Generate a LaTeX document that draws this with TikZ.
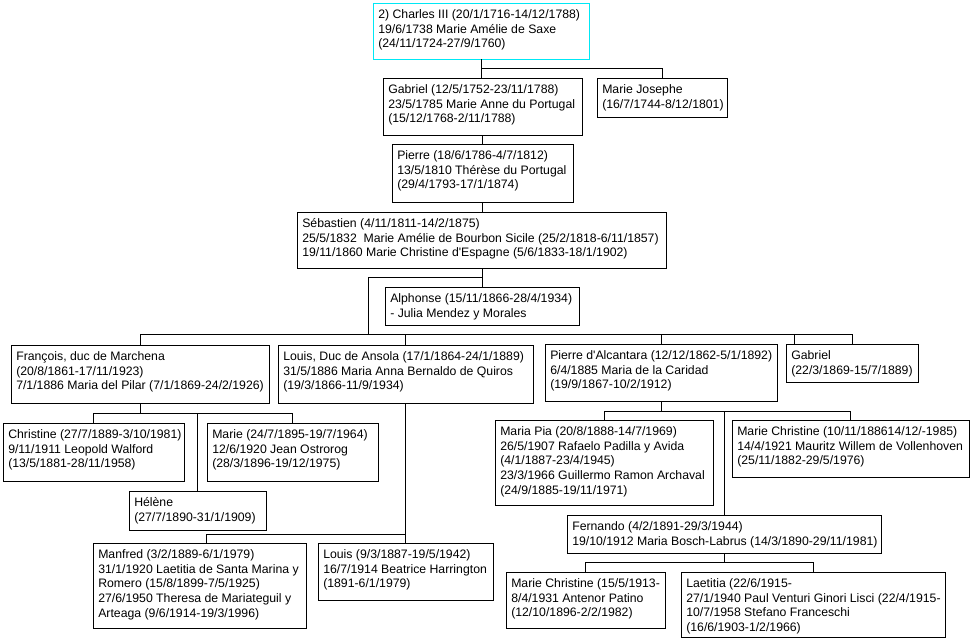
\documentclass[tikz,border=0pt]{standalone}
\usepackage{fontspec}
\setmainfont{Liberation Sans}[Ligatures=TeXOff]
\usetikzlibrary{calc}
\definecolor{topcyan}{RGB}{0,232,245}
\newcommand{\pnode}[7]{%
  \node[boxst,#1,minimum width={#5*0.75pt},minimum height={#6*0.75pt}] (#2) at (#3,#4) {};
  \node[txt] (#2-t) at ($(#2.north west)+(5,6)$) {\rule{0pt}{7pt}#7};}
\begin{document}
\begin{tikzpicture}[x=0.75pt,y=-0.75pt,
  boxst/.style={draw=black,line width=0.75pt,fill=white,anchor=north west,inner sep=0pt,outer sep=0pt},
  txt/.style={anchor=north west,inner sep=0pt,align=left,font=\fontsize{9.2}{11}\selectfont},
  conn/.style={draw=black,line width=0.75pt}]
\fill[white] (0,0) rectangle (971,640);
\useasboundingbox (0,0) rectangle (971,640);

\pnode{draw=topcyan}{charles}{373}{3}{216}{56}{2) Charles III (20/1/1716-14/12/1788)\\19/6/1738 Marie Amélie de Saxe\\(24/11/1724-27/9/1760)}
\pnode{}{gabriel}{383}{78}{199}{57}{Gabriel (12/5/1752-23/11/1788)\\23/5/1785 Marie Anne du Portugal\\(15/12/1768-2/11/1788)}
\pnode{}{mariejo}{597}{78}{130}{39}{Marie Josephe\\(16/7/1744-8/12/1801)}
\pnode{}{pierre}{392}{144}{181}{58}{Pierre (18/6/1786-4/7/1812)\\13/5/1810 Thérèse du Portugal\\(29/4/1793-17/1/1874)}
\pnode{}{sebastien}{297}{212}{369}{56}{Sébastien (4/11/1811-14/2/1875)\\25/5/1832~ Marie Amélie de Bourbon Sicile (25/2/1818-6/11/1857)\\19/11/1860 Marie Christine d'Espagne (5/6/1833-18/1/1902)}
\pnode{}{alphonse}{385}{287}{194}{38}{Alphonse (15/11/1866-28/4/1934)\\- Julia Mendez y Morales}
\pnode{}{francois}{11}{345}{258}{58}{François, duc de Marchena\\(20/8/1861-17/11/1923)\\7/1/1886 Maria del Pilar (7/1/1869-24/2/1926)}
\pnode{}{louis}{278}{345}{255}{58}{Louis, Duc de Ansola (17/1/1864-24/1/1889)\\31/5/1886 Maria Anna Bernaldo de Quiros\\(19/3/1866-11/9/1934)}
\pnode{}{pierreA}{545}{344}{232}{57}{Pierre d'Alcantara (12/12/1862-5/1/1892)\\6/4/1885 Maria de la Caridad\\(19/9/1867-10/2/1912)}
\pnode{}{gabriel2}{786}{344}{132}{38}{Gabriel\\(22/3/1869-15/7/1889)}
\pnode{}{christine}{3}{423}{181}{58}{Christine (27/7/1889-3/10/1981)\\9/11/1911 Leopold Walford\\(13/5/1881-28/11/1958)}
\pnode{}{marie}{207}{423}{171}{58}{Marie (24/7/1895-19/7/1964)\\12/6/1920 Jean Ostrorog\\(28/3/1896-19/12/1975)}
\pnode{}{helene}{129}{491}{137}{39}{Hélène\\(27/7/1890-31/1/1909)}
\pnode{}{mariapia}{495}{420}{218}{85}{Maria Pia (20/8/1888-14/7/1969)\\26/5/1907 Rafaelo Padilla y Avida\\(4/1/1887-23/4/1945)\\23/3/1966 Guillermo Ramon Archaval\\(24/9/1885-19/11/1971)}
\pnode{}{mchristine}{732}{420}{237}{57}{Marie Christine (10/11/188614/12/-1985)\\14/4/1921 Mauritz Willem de Vollenhoven\\(25/11/1882-29/5/1976)}
\pnode{}{fernando}{567}{515}{314}{38}{Fernando (4/2/1891-29/3/1944)\\19/10/1912 Maria Bosch-Labrus (14/3/1890-29/11/1981)}
\pnode{}{manfred}{93}{543}{213}{85}{Manfred (3/2/1889-6/1/1979)\\31/1/1920 Laetitia de Santa Marina y\\Romero (15/8/1899-7/5/1925)\\27/6/1950 Theresa de Mariateguil y\\Arteaga (9/6/1914-19/3/1996)}
\pnode{}{louisjr}{318}{543}{175}{57}{Louis (9/3/1887-19/5/1942)\\16/7/1914 Beatrice Harrington\\(1891-6/1/1979)}
\pnode{}{mc2}{506}{572}{159}{56}{Marie Christine (15/5/1913-\\8/4/1931 Antenor Patino\\(12/10/1896-2/2/1982)}
\pnode{}{laetitia}{681}{572}{264}{65}{Laetitia (22/6/1915-\\27/1/1940 Paul Venturi Ginori Lisci (22/4/1915-\\10/7/1958 Stefano Franceschi\\(16/6/1903-1/2/1966)}

% Charles
\draw[conn] (charles.south) -- (charles.south |- gabriel.north);
\draw[conn] (charles.south) ++(0,9) -| (mariejo.north);
\draw[conn] (gabriel.south) -- (gabriel.south |- pierre.north);
\draw[conn] (pierre.south) -- (pierre.south |- sebastien.north);
% Sebastien
\draw[conn] (sebastien.south -| alphonse.north) -- (alphonse.north);
\coordinate (sj) at (368,334);
\draw[conn] (sebastien.south) ++(0,9) -| (sj);
\draw[conn] (francois.north) |- (gabriel2.north |- sj) -- (gabriel2.north);
\draw[conn] (louis.north) -- (louis.north |- sj);
\draw[conn] (pierreA.north) -- (pierreA.north |- sj);
\draw[conn] ($(gabriel2.north west)+(8,0)$) -- ++(0,-10);
% Francois
\coordinate (bf) at ($(christine.north)+(0,-10)$);
\draw[conn] (francois.south) -- (francois.south |- bf);
\draw[conn] (christine.north) |- (marie.north |- bf) -- (marie.north);
\draw[conn] (helene.north) -- (helene.north |- bf);
% Louis
\draw[conn] (louis.south) -- (louis.south |- louisjr.north);
\draw[conn] (louisjr.north) ++(0,-9) -| ($(manfred.north)+(7,0)$);
% Pierre d'Alcantara
\coordinate (bp) at ($(mariapia.north)+(0,-9)$);
\draw[conn] (pierreA.south) -- (pierreA.south |- bp);
\draw[conn] (mariapia.north) |- (mchristine.north |- bp) -- (mchristine.north);
\draw[conn] (fernando.north) -- (fernando.north |- bp);
% Fernando
\coordinate (bfe) at ($(mc2.north)+(0,-10)$);
\draw[conn] (fernando.south) -- (fernando.south |- bfe);
\draw[conn] (mc2.north) |- (laetitia.north |- bfe) -- (laetitia.north);
\end{tikzpicture}
\end{document}
